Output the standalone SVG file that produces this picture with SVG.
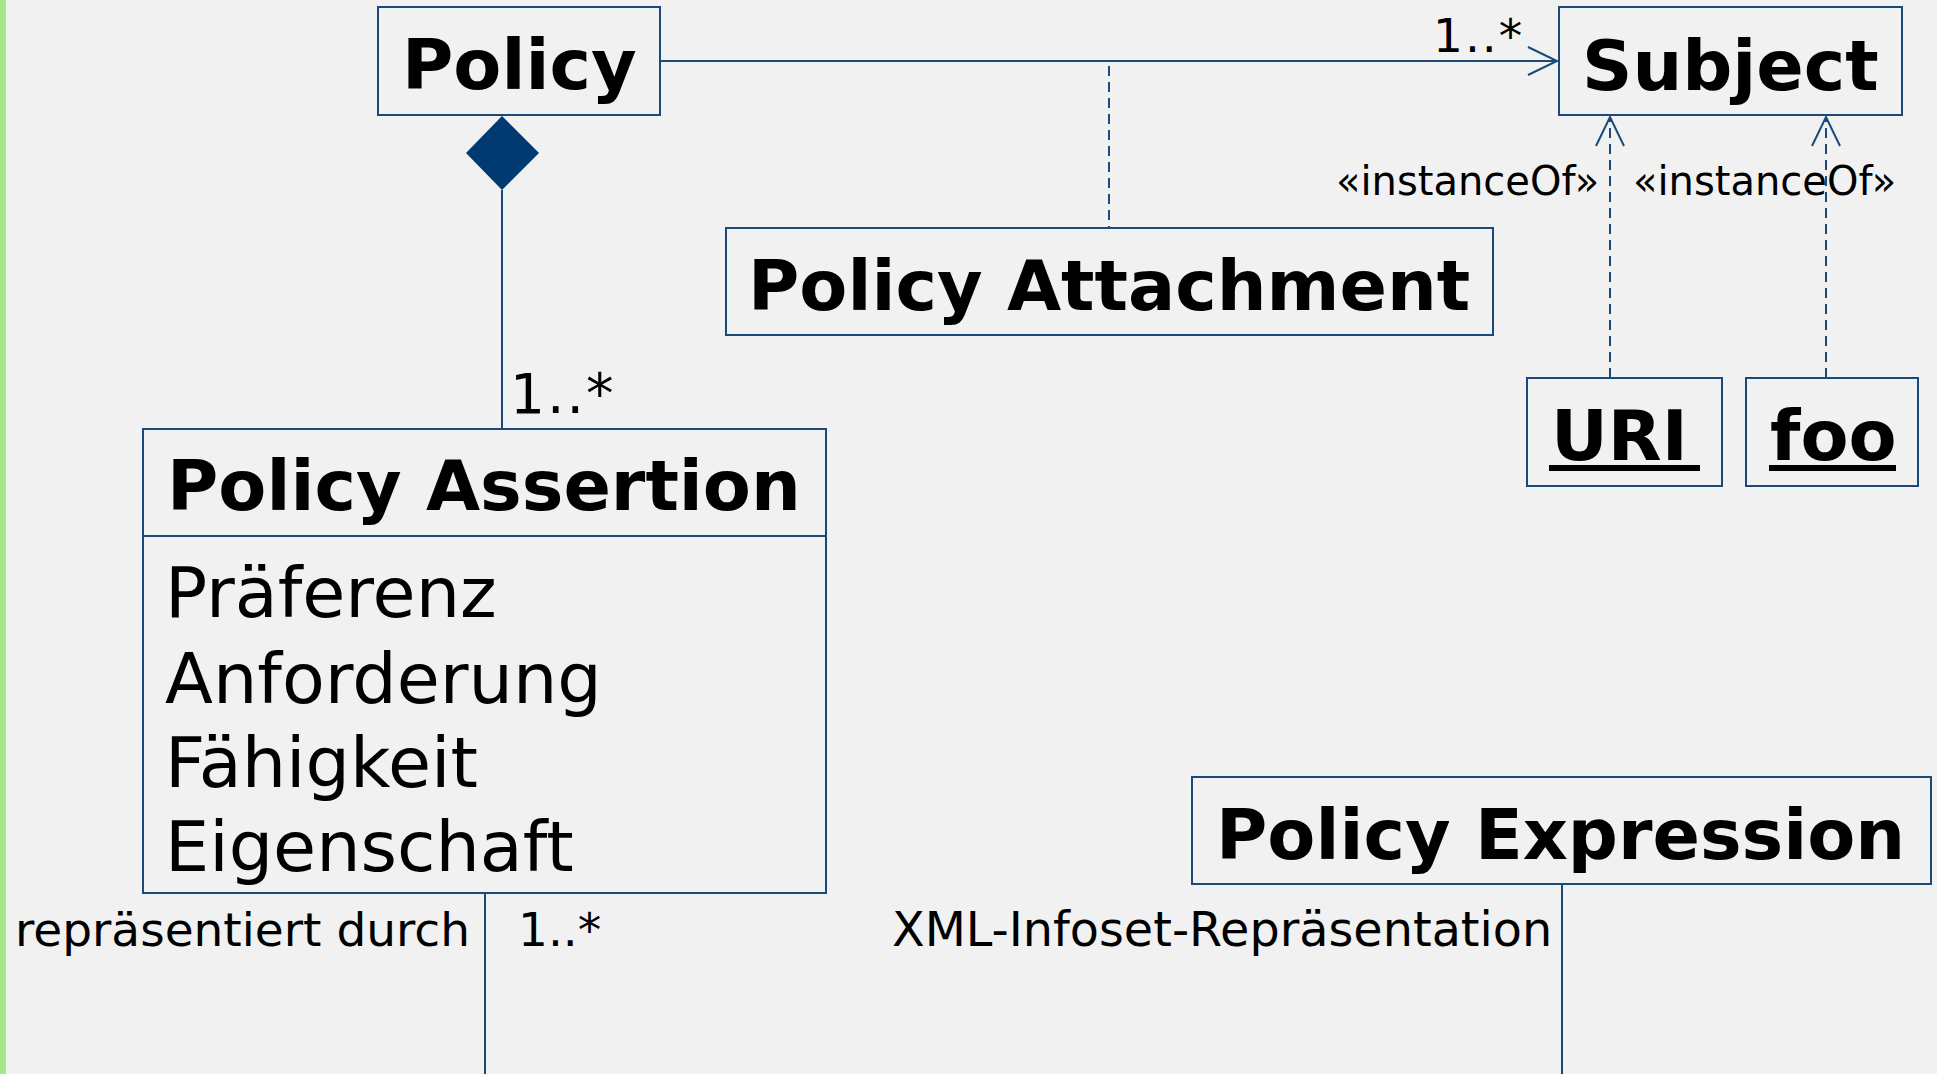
<svg xmlns="http://www.w3.org/2000/svg" width="1937" height="1074" viewBox="0 0 1937 1074">
<style>
.box{fill:none;stroke:#1b4a7a;stroke-width:2}
.ln{fill:none;stroke:#1b4a7a;stroke-width:2}
.dash{fill:none;stroke:#1b4a7a;stroke-width:2;stroke-dasharray:10 6}
.t{font-family:"DejaVu Sans",Verdana,sans-serif;fill:#000}
.title{font-weight:bold;font-size:70px}
.attr{font-size:70px}
.lbl{font-size:47px}
.st{font-size:40px}
</style>
<defs>
<marker id="open" markerWidth="34" markerHeight="34" refX="30" refY="15" orient="auto" markerUnits="userSpaceOnUse">
<path d="M1,1 L30,15 L1,29" fill="none" stroke="#1b4a7a" stroke-width="2"/>
</marker>
</defs>
<rect width="1937" height="1074" fill="#f1f1f1"/>
<rect x="0" y="0" width="6" height="1074" fill="#a6e68b"/>

<g id="connectors">
<line class="ln" x1="660" y1="61" x2="1557" y2="61" marker-end="url(#open)"/>
<line class="dash" x1="1109" y1="66" x2="1109" y2="228"/>
<line class="dash" x1="1610" y1="378" x2="1610" y2="117" marker-end="url(#open)"/>
<line class="dash" x1="1826" y1="378" x2="1826" y2="117" marker-end="url(#open)"/>
<line class="ln" x1="502" y1="190" x2="502" y2="429"/>
<polygon points="502,116 539,153 502,190 466,153" fill="#003a70"/>
<line class="ln" x1="485" y1="893" x2="485" y2="1074"/>
<line class="ln" x1="1562" y1="884" x2="1562" y2="1074"/>
<text class="t lbl" x="1433" y="52" letter-spacing="2">1..*</text>
<text class="t st" x="1336" y="195">«instanceOf»</text>
<text class="t st" x="1633" y="195">«instanceOf»</text>
<text class="t" x="510" y="413" font-size="55" letter-spacing="2">1..*</text>
<text class="t lbl" x="15" y="946">repräsentiert durch</text>
<text class="t lbl" x="518" y="946">1..*</text>
<text class="t" x="892" y="946" font-size="47.7">XML-Infoset-Repräsentation</text>
</g>

<g id="policy">
<rect class="box" x="378" y="7" width="282" height="108"/>
<text class="t title" x="402" y="89">Policy</text>
</g>
<g id="subject">
<rect class="box" x="1559" y="7" width="343" height="108"/>
<text class="t title" x="1582" y="90">Subject</text>
</g>
<g id="policy-attachment">
<rect class="box" x="726" y="228" width="767" height="107"/>
<text class="t title" x="748" y="310">Policy Attachment</text>
</g>
<g id="uri">
<rect class="box" x="1527" y="378" width="195" height="108"/>
<text class="t title" x="1551" y="460">URI</text>
<rect x="1549" y="465" width="151" height="6" fill="#000"/>
</g>
<g id="foo">
<rect class="box" x="1746" y="378" width="172" height="108"/>
<text class="t title" x="1770" y="460">foo</text>
<rect x="1769" y="465" width="127" height="6" fill="#000"/>
</g>
<g id="policy-assertion">
<rect class="box" x="143" y="429" width="683" height="464"/>
<line class="ln" x1="143" y1="536" x2="826" y2="536"/>
<text class="t title" x="167" y="510">Policy Assertion</text>
<text class="t attr" x="165" y="617">Präferenz</text>
<text class="t attr" x="165" y="703">Anforderung</text>
<text class="t attr" x="165" y="787">Fähigkeit</text>
<text class="t attr" x="165" y="871">Eigenschaft</text>
</g>
<g id="policy-expression">
<rect class="box" x="1192" y="777" width="739" height="107"/>
<text class="t title" x="1216" y="859">Policy Expression</text>
</g>
</svg>
